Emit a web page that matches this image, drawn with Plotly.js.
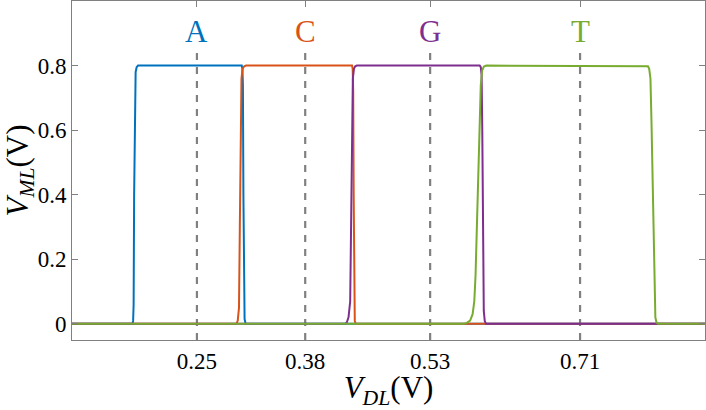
<!DOCTYPE html>
<html>
<head>
<meta charset="utf-8">
<script src="https://cdn.plot.ly/plotly-3.0.1.min.js"></script>
<style>html,body{margin:0;padding:0;background:#fff;}#chart{width:706px;height:410px;}</style>
</head>
<body>
<div id="chart"></div>
<script>
// ---- data ----
var baseLabels = ['A', 'C', 'G', 'T'];
var baseCentres = [0.25, 0.38, 0.53, 0.71];
var xTickLabels = ['0.25', '0.38', '0.53', '0.71'];
var yTickVals = [0, 0.2, 0.4, 0.6, 0.8];
var yTickLabels = ['0', '0.2', '0.4', '0.6', '0.8'];
var guideY = [-0.05, 0.84];

var xA = [0.100, 0.1728, 0.1734, 0.1740, 0.1746, 0.1754, 0.1764, 0.1776, 0.1793, 0.1815, 0.3038, 0.3046, 0.3052, 0.3058, 0.3064, 0.3072, 0.3084, 0.860];
var yA = [0, 0, 0.01, 0.06, 0.40, 0.72, 0.78, 0.795, 0.8, 0.8, 0.8, 0.79, 0.74, 0.40, 0.08, 0.015, 0, 0];

var xC = [0.100, 0.2975, 0.2990, 0.3005, 0.3015, 0.3025, 0.3035, 0.3048, 0.3068, 0.3090, 0.4362, 0.4370, 0.4376, 0.4382, 0.4388, 0.4395, 0.4405, 0.860];
var yC = [0, 0, 0.01, 0.05, 0.30, 0.65, 0.76, 0.79, 0.798, 0.8, 0.8, 0.79, 0.72, 0.40, 0.08, 0.01, 0, 0];

var xG = [0.100, 0.4280, 0.4300, 0.4320, 0.4340, 0.4352, 0.4362, 0.4372, 0.4385, 0.4400, 0.4420, 0.5895, 0.5908, 0.5918, 0.5926, 0.5934, 0.5944, 0.5956, 0.5972, 0.860];
var yG = [0, 0, 0.005, 0.02, 0.07, 0.30, 0.65, 0.76, 0.79, 0.798, 0.8, 0.8, 0.795, 0.77, 0.60, 0.20, 0.04, 0.008, 0, 0];

var xT = [0.100, 0.5700, 0.5740, 0.5780, 0.5810, 0.5830, 0.5845, 0.5860, 0.5875, 0.5892, 0.5908, 0.5925, 0.5945, 0.5975, 0.7895, 0.7915, 0.7930, 0.7945, 0.7958, 0.7975, 0.7992, 0.8004, 0.8018, 0.8040, 0.860];
var yT = [0, 0, 0.003, 0.01, 0.03, 0.07, 0.15, 0.30, 0.47, 0.63, 0.74, 0.785, 0.797, 0.8, 0.8, 0.798, 0.79, 0.76, 0.62, 0.40, 0.12, 0.02, 0.004, 0, 0];

var colours = ['#0072BD', '#D95319', '#7E2F8E', '#77AC30'];
var seriesX = [xA, xC, xG, xT];
var seriesY = [yA, yC, yG, yT];

var SERIF = "'Liberation Serif', 'DejaVu Serif', serif";

var traces = [];
baseCentres.forEach(function (c) {
  traces.push({
    x: [c, c], y: guideY, mode: 'lines', hoverinfo: 'skip', showlegend: false,
    line: {color: '#808080', width: 2.2, dash: '7px,7px'}
  });
});
for (var i = 0; i < 4; i++) {
  traces.push({
    x: seriesX[i], y: seriesY[i], mode: 'lines', showlegend: false, name: baseLabels[i],
    line: {color: colours[i], width: 2}
  });
}

var annotations = baseLabels.map(function (b, i) {
  return {
    x: baseCentres[i], y: 0.907, xref: 'x', yref: 'y', text: b, showarrow: false,
    xanchor: 'center', yanchor: 'middle',
    font: {family: SERIF, size: 31, color: colours[i]}
  };
});

var axisFont = {family: SERIF, size: 23, color: '#000'};

var layout = {
  width: 706, height: 410,
  margin: {l: 72, r: 1, t: 1, b: 70},
  paper_bgcolor: '#fff', plot_bgcolor: '#fff',
  font: {family: SERIF},
  showlegend: false,
  xaxis: {
    range: [0.1, 0.86], tickmode: 'array', tickvals: baseCentres, ticktext: xTickLabels,
    ticks: 'inside', ticklen: 6, tickwidth: 1, tickcolor: '#808080',
    showline: true, linecolor: '#808080', linewidth: 1, mirror: 'ticks',
    showgrid: false, zeroline: false, tickfont: axisFont,
    title: {text: '<i>V</i><sub><i>DL</i></sub>(V)', font: {family: SERIF, size: 31, color: '#000'}, standoff: 9}
  },
  yaxis: {
    range: [-0.05, 1.0], tickmode: 'array', tickvals: yTickVals, ticktext: yTickLabels,
    ticks: 'inside', ticklen: 6, tickwidth: 1, tickcolor: '#808080',
    showline: true, linecolor: '#808080', linewidth: 1, mirror: 'ticks',
    showgrid: false, zeroline: false, tickfont: axisFont,
    title: {text: '<i>V</i><sub><i>ML</i></sub>(V)', font: {family: SERIF, size: 31, color: '#000'}, standoff: 2}
  },
  annotations: annotations
};

Plotly.newPlot('chart', traces, layout, {displayModeBar: false, staticPlot: true});
</script>
</body>
</html>
